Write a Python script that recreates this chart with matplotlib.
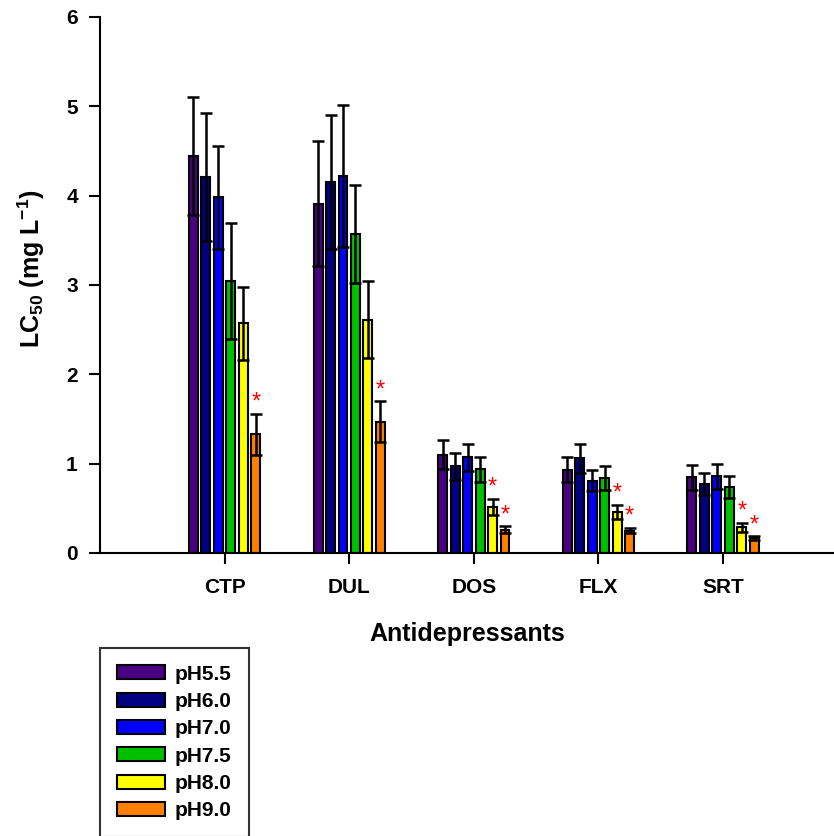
import matplotlib
matplotlib.use("Agg")
import matplotlib.pyplot as plt
import numpy as np

plt.rcParams['font.family'] = ['Liberation Sans', 'DejaVu Sans']
plt.rcParams['mathtext.fontset'] = 'custom'
plt.rcParams['mathtext.rm'] = 'Liberation Sans:bold'
plt.rcParams['mathtext.bf'] = 'Liberation Sans:bold'
plt.rcParams['mathtext.it'] = 'Liberation Sans:bold'

categories = ["CTP", "DUL", "DOS", "FLX", "SRT"]
series = ["pH5.5", "pH6.0", "pH7.0", "pH7.5", "pH8.0", "pH9.0"]
colors = ["#4B0082", "#000080", "#0000FF", "#00C000", "#FFFF00", "#FF8000"]

values = {
    "pH5.5": [4.44, 3.91, 1.10, 0.93, 0.85],
    "pH6.0": [4.21, 4.15, 0.97, 1.06, 0.77],
    "pH7.0": [3.98, 4.22, 1.07, 0.81, 0.86],
    "pH7.5": [3.04, 3.57, 0.94, 0.84, 0.74],
    "pH8.0": [2.57, 2.61, 0.52, 0.46, 0.29],
    "pH9.0": [1.33, 1.47, 0.26, 0.25, 0.165],
}
errors = {
    "pH5.5": [0.66, 0.70, 0.16, 0.14, 0.14],
    "pH6.0": [0.72, 0.75, 0.15, 0.16, 0.12],
    "pH7.0": [0.58, 0.80, 0.15, 0.12, 0.14],
    "pH7.5": [0.65, 0.55, 0.14, 0.13, 0.12],
    "pH8.0": [0.41, 0.43, 0.09, 0.08, 0.05],
    "pH9.0": [0.23, 0.23, 0.04, 0.03, 0.02],
}
# significance markers (series, category index)
significant = {
    "pH8.0": [2, 3, 4],
    "pH9.0": [0, 1, 2, 3, 4],
}

fig = plt.figure(figsize=(8.34, 8.36), dpi=100)
ax = fig.add_axes([100/834, 1 - 553/836, 734/834, (553 - 17)/836])

x = np.arange(len(categories))
step = 0.1
width = 0.072
for i, s in enumerate(series):
    xpos = x + (i - 2.5) * step
    ax.bar(xpos, values[s], width=width, color=colors[i], edgecolor="black",
           linewidth=1.5, label=s, zorder=2)
    ax.errorbar(xpos, values[s], yerr=errors[s], fmt="none", ecolor="black",
                elinewidth=1.8, capsize=4, capthick=1.8, zorder=3)
    for j in significant.get(s, []):
        ax.text(xpos[j], values[s][j] + errors[s][j] + 0.0, "*", color="red",
                ha="center", va="bottom", fontsize=17, zorder=4)

ax.set_xlim(-1.0, 4.89)
ax.set_ylim(0, 6)
ax.set_yticks(range(0, 7))
ax.set_xticks(x)
ax.set_xticklabels(categories)
for sp in ["top", "right"]:
    ax.spines[sp].set_visible(False)
for sp in ["left", "bottom"]:
    ax.spines[sp].set_linewidth(1.5)
ax.tick_params(axis="both", direction="out", length=8, width=1.5, labelsize=15)
ax.tick_params(axis="x", pad=10)
ax.tick_params(axis="y", pad=8)
for lbl in ax.get_xticklabels() + ax.get_yticklabels():
    lbl.set_fontweight("bold")

ax.set_ylabel(r"LC$_{\mathbf{50}}$ (mg L$^{\mathbf{-1}}$)", fontsize=18,
              fontweight="bold")
ax.yaxis.set_label_coords(-0.072, 0.53)
ax.set_xlabel("Antidepressants", fontsize=18, fontweight="bold", labelpad=18)

leg = fig.legend(loc="upper left", bbox_to_anchor=(100/834, 1 - 648/836),
                 frameon=True, fancybox=False, edgecolor="black",
                 prop={"weight": "bold", "size": 15}, handlelength=2.3,
                 handleheight=0.65, labelspacing=0.4, borderpad=0.8,
                 handletextpad=0.5, borderaxespad=0)
leg.get_frame().set_linewidth(1.5)

fig.savefig("out.png", dpi=100)
